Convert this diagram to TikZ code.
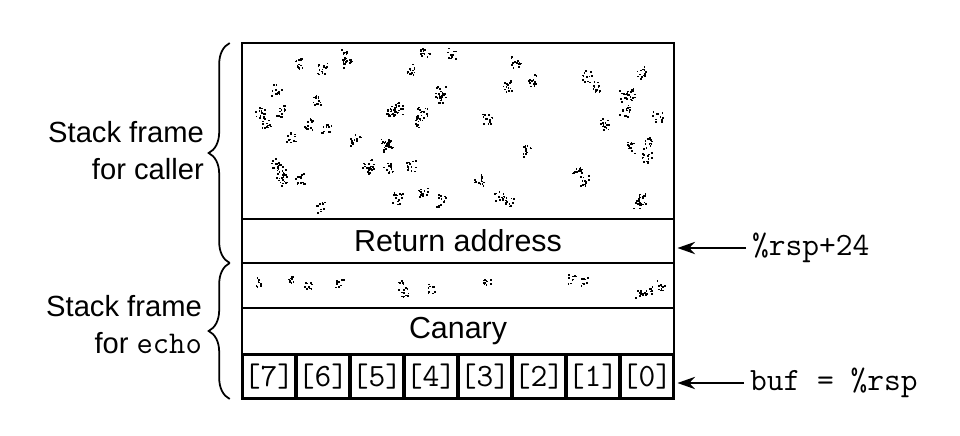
\documentclass[tikz,border=0pt]{standalone}
\usepackage{fontspec}
\setsansfont{Liberation Sans}
\usetikzlibrary{arrows.meta,decorations.pathreplacing}

\tikzset{
  slot/.style={draw, line width=1.4pt, minimum width=8.64cm, inner sep=0pt, outer sep=0pt,
    font=\fontsize{17.3}{20}\sffamily},
  cell/.style={draw, line width=1.1pt, minimum width=1.03cm, minimum height=0.84cm, inner sep=0pt,
    font=\fontsize{18.5}{20}\ttfamily},
  framelabel/.style={align=right, anchor=east, font=\fontsize{16.6}{21}\sffamily},
  ptrlabel/.style={anchor=west, font=\fontsize{18.5}{20}\ttfamily},
  ptr/.style={-{Stealth[length=10pt,width=7pt]}, line width=1.2pt, shorten >=2pt},
  framebrace/.style={decorate, decoration={brace, amplitude=12pt}, line width=1pt},
}

\begin{document}
\begin{tikzpicture}[x=0.02cm, y=-0.02cm]
  \useasboundingbox (0,0) rectangle (960,436);

  % stack slots, top to bottom
  \node[slot, minimum height=3.52cm] (caller) at (458,131) {};
  \node[slot, minimum height=0.88cm] (ret) at (458,241) {Return address};
  \node[slot, minimum height=0.9cm] (pad) at (458,285.5) {};
  \node[slot, minimum height=0.92cm] (canary) at (458,331) {Canary};
  \node[slot, minimum height=0.9cm] (bufrow) at (458,376.5) {};

  % buf[7] .. buf[0]
  \foreach \i in {0,...,7}{
    \pgfmathtruncatemacro\idx{7-\i}
    \node[cell] (b\idx) at (269+54*\i,376.5) {[\idx]};
  }

  % speckled (unused) space
  \pgfmathsetseed{42}
  \foreach \k in {1,...,60}{
    \pgfmathsetmacro\cx{458+203*rand}
    \pgfmathsetmacro\cy{131+78*rand}
    \foreach \d in {1,...,14}{
      \fill ({\cx+5*rand},{\cy+6*rand}) rectangle ++(1.7,1.7);
    }
  }
  \foreach \k in {1,...,13}{
    \pgfmathsetmacro\cx{458+203*rand}
    \pgfmathsetmacro\cy{285+12*rand}
    \foreach \d in {1,...,10}{
      \fill ({\cx+4*rand},{\cy+5*rand}) rectangle ++(1.7,1.7);
    }
  }

  % frames
  \draw[framebrace] ([xshift=-7pt]ret.south west) -- ([xshift=-7pt]caller.north west);
  \draw[framebrace] ([xshift=-7pt]bufrow.south west) -- ([xshift=-7pt]pad.north west);
  \node[framelabel] (callerlbl) at (210,151) {Stack frame\\for caller};
  \node[framelabel] (echolbl) at (208,325) {Stack frame\\for {\fontsize{18}{21}\ttfamily echo}};

  % pointers
  \node[ptrlabel] (rspoff) at (746,248) {\%rsp+24};
  \node[ptrlabel] (bufptr) at (744,383) {buf = \%rsp};
  \draw[ptr] (rspoff.west) -- (rspoff.west -| ret.east);
  \draw[ptr] (bufptr.west) -- (bufptr.west -| bufrow.east);
\end{tikzpicture}
\end{document}
